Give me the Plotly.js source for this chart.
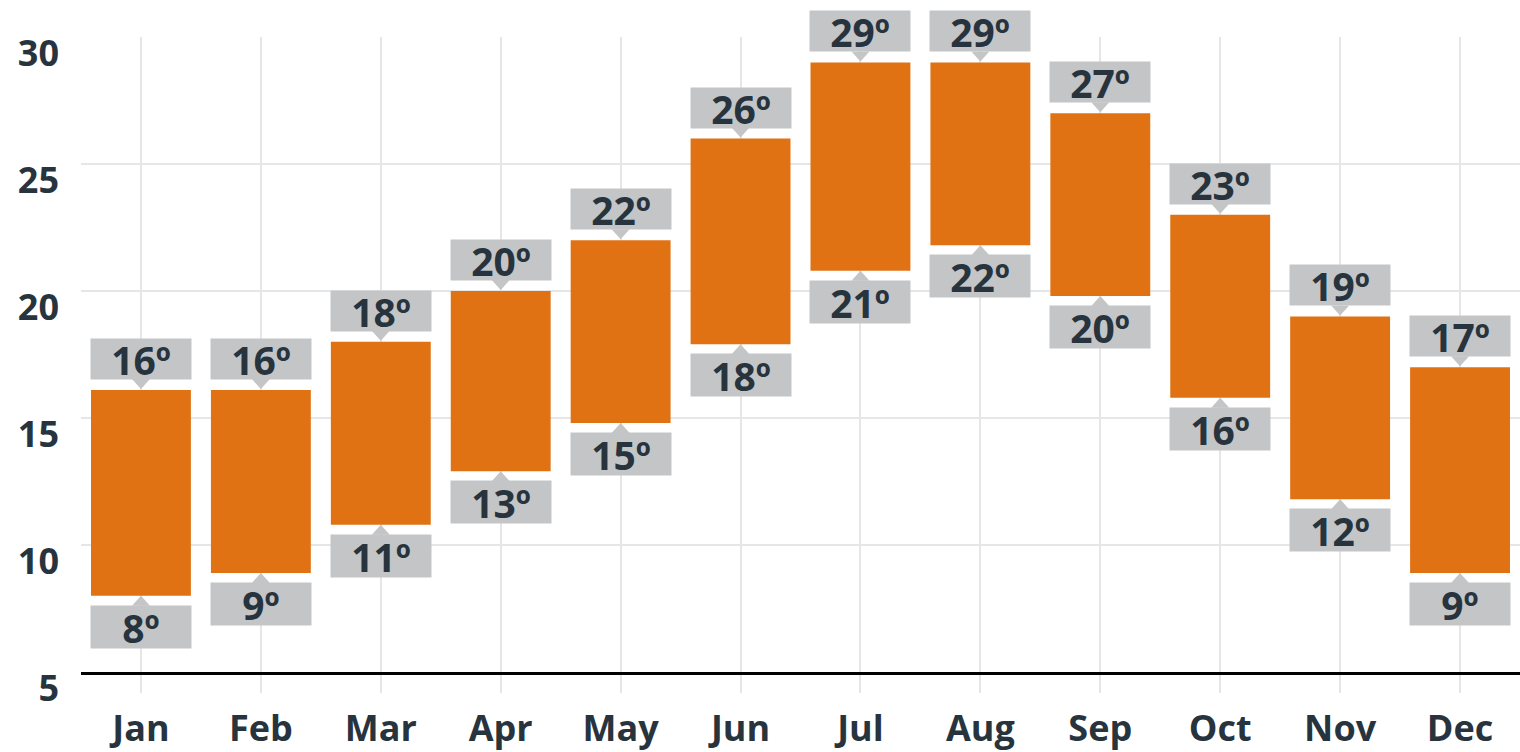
<!DOCTYPE html>
<html>
<head>
<meta charset="utf-8">
<script src="https://cdn.plot.ly/plotly-3.0.1.min.js"></script>
<style>html,body{margin:0;padding:0;background:#fff;}#chart{width:1520px;height:752px;}</style>
</head>
<body>
<div id="chart"></div>
<script>
const months = ["Jan","Feb","Mar","Apr","May","Jun","Jul","Aug","Sep","Oct","Nov","Dec"];
const highs = [16.1,16.1,18,20,22,26,29,29,27,23,19,17];
const lows  = [8.0,8.9,10.8,12.9,14.8,17.9,20.8,21.8,19.8,15.8,11.8,8.9];
const yTicks = [5,10,15,20,25,30];

const FONT = "'Open Sans', 'Noto Sans', sans-serif";
const TXT = "#27343e";
const BAR = "#e07214";
const BOX = "#c4c5c7";

const trace = {
  type: "bar",
  x: months,
  base: lows,
  y: highs.map((h, i) => h - lows[i]),
  marker: {color: BAR},
  hoverinfo: "skip"
};

const annotations = [];
const shapes = [];
months.forEach((m, i) => {
  annotations.push({
    x: m, y: highs[i], xref: "x", yref: "y",
    text: Math.round(highs[i]) + "º", showarrow: false,
    yanchor: "bottom", yshift: 10,
    width: 100, height: 40, bgcolor: BOX, borderpad: 0,
    font: {family: FONT, size: 39, color: TXT, weight: "bold"}
  });
  annotations.push({
    x: m, y: lows[i], xref: "x", yref: "y",
    text: Math.round(lows[i]) + "º", showarrow: false,
    yanchor: "top", yshift: -9,
    width: 100, height: 42, bgcolor: BOX, borderpad: 0,
    font: {family: FONT, size: 39, color: TXT, weight: "bold"}
  });
  shapes.push({
    type: "path", xref: "x", yref: "y",
    xsizemode: "pixel", ysizemode: "pixel",
    xanchor: m, yanchor: highs[i],
    path: "M -9 11 L 9 11 L 0 1 Z",
    fillcolor: BOX, line: {width: 0}
  });
  shapes.push({
    type: "path", xref: "x", yref: "y",
    xsizemode: "pixel", ysizemode: "pixel",
    xanchor: m, yanchor: lows[i],
    path: "M -9 -10 L 9 -10 L 0 0 Z",
    fillcolor: BOX, line: {width: 0}
  });
});

const layout = {
  width: 1520, height: 752,
  margin: {l: 81, r: 0, t: 37, b: 80},
  paper_bgcolor: "#fff", plot_bgcolor: "#fff",
  showlegend: false,
  bargap: 0.167,
  xaxis: {
    type: "category",
    range: [-0.5, 11.5],
    showgrid: true, gridcolor: "#e6e6e6", gridwidth: 2,
    ticks: "outside", ticklen: 18, tickcolor: "#e6e6e6", tickwidth: 2,
    ticklabelstandoff: 5,
    showline: true, linecolor: "#000", linewidth: 3,
    tickfont: {family: FONT, size: 36, color: TXT, weight: "bold"},
    fixedrange: true
  },
  yaxis: {
    range: [5, 30],
    tickvals: yTicks,
    ticktext: yTicks.map(String),
    showgrid: true, gridcolor: "#e6e6e6", gridwidth: 2,
    zeroline: false, showline: false, ticks: "",
    ticklabelstandoff: 21,
    ticklabelshift: 16,
    tickfont: {family: FONT, size: 36, color: TXT, weight: "bold"},
    fixedrange: true
  },
  annotations: annotations,
  shapes: shapes
};

Plotly.newPlot("chart", [trace], layout, {displayModeBar: false, staticPlot: true});
</script>
</body>
</html>
